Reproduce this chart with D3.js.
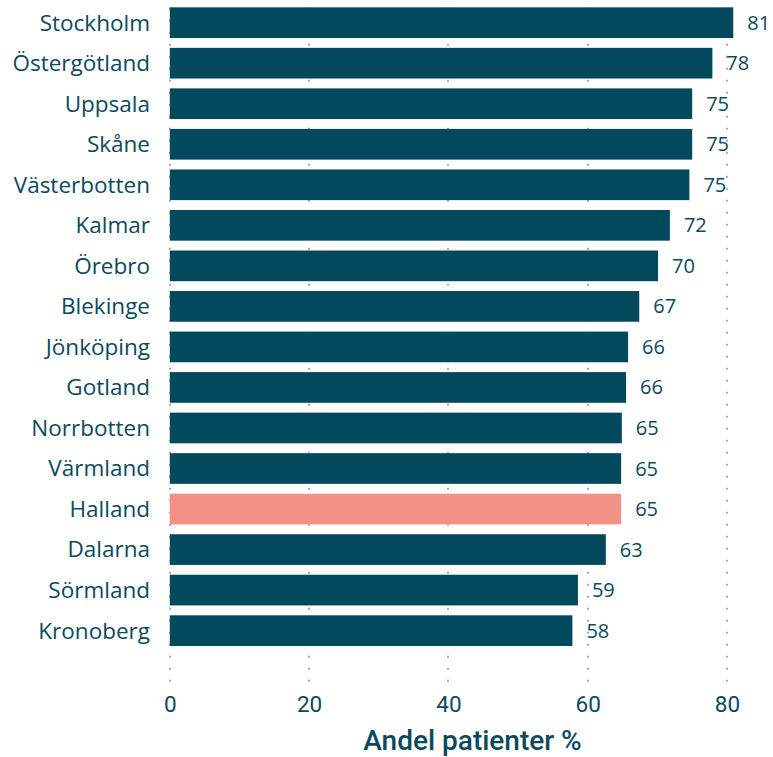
<!DOCTYPE html>
<html>
<head>
<meta charset="utf-8">
<script src="https://cdn.jsdelivr.net/npm/d3@7"></script>
<style>
  html, body { margin: 0; padding: 0; background: #ffffff; }
  svg { display: block; }
</style>
</head>
<body>
<svg id="chart" width="773" height="757"></svg>
<script>
const regions = ["Stockholm","Östergötland","Uppsala","Skåne","Västerbotten","Kalmar","Örebro","Blekinge","Jönköping","Gotland","Norrbotten","Värmland","Halland","Dalarna","Sörmland","Kronoberg"];
const values = [80.9, 77.9, 75.0, 75.0, 74.6, 71.8, 70.1, 67.4, 65.8, 65.5, 64.9, 64.8, 64.8, 62.6, 58.6, 57.8];
const highlight = ["Halland"];
const xTicks = [0, 20, 40, 60, 80];
const axisTitle = "Andel patienter %";

const svg = d3.select("#chart");
const textColor = "#0b4a5c";
const barColor = "#03495d";
const hiColor = "#f29287";

const x = d3.scaleLinear().domain([0, 80]).range([169.8, 727]);
const y = d3.scaleBand().domain(regions).range([2.4, 650.9]).paddingInner(0.243).paddingOuter(0.1215);

// dotted gridlines
svg.append("g").selectAll("line").data(xTicks).join("line")
  .attr("x1", d => Math.round(x(d)))
  .attr("x2", d => Math.round(x(d)))
  .attr("y1", 7.7).attr("y2", 690)
  .attr("stroke", "#aaaaaa").attr("stroke-width", 2)
  .attr("stroke-dasharray", "2,10");

// bars
svg.append("g").selectAll("rect").data(regions).join("rect")
  .attr("x", x(0))
  .attr("y", d => y(d))
  .attr("width", (d, i) => x(values[i]) - x(0))
  .attr("height", y.bandwidth())
  .attr("fill", d => highlight.includes(d) ? hiColor : barColor);

// category labels
svg.append("g").selectAll("text").data(regions).join("text")
  .attr("x", 150)
  .attr("y", d => y(d) + y.bandwidth() / 2)
  .attr("dy", "0.35em")
  .attr("text-anchor", "end")
  .attr("font-family", "'Open Sans', sans-serif")
  .attr("font-size", 22.5)
  .attr("fill", textColor)
  .text(d => d);

// value labels
svg.append("g").selectAll("text").data(regions).join("text")
  .attr("x", (d, i) => x(values[i]) + 14)
  .attr("y", d => y(d) + y.bandwidth() / 2)
  .attr("dy", "0.35em")
  .attr("text-anchor", "start")
  .attr("font-family", "'Open Sans', sans-serif")
  .attr("font-size", 20)
  .attr("fill", textColor)
  .text((d, i) => Math.round(values[i]));

// x axis tick labels
const xAxis = d3.axisBottom(x).tickValues(xTicks).tickSize(0).tickPadding(0);
const gx = svg.append("g").attr("transform", "translate(0,696)").call(xAxis);
gx.select(".domain").remove();
gx.selectAll("text")
  .attr("font-family", "Roboto, sans-serif")
  .attr("font-size", 22.5)
  .attr("fill", textColor)
  .attr("dy", "0.71em")
  .attr("y", 0);

// axis title
svg.append("text")
  .attr("x", 472.5)
  .attr("y", 750)
  .attr("text-anchor", "middle")
  .attr("font-family", "Roboto, sans-serif")
  .attr("font-weight", 500)
  .attr("font-size", 28)
  .attr("fill", textColor)
  .text(axisTitle);
</script>
</body>
</html>
